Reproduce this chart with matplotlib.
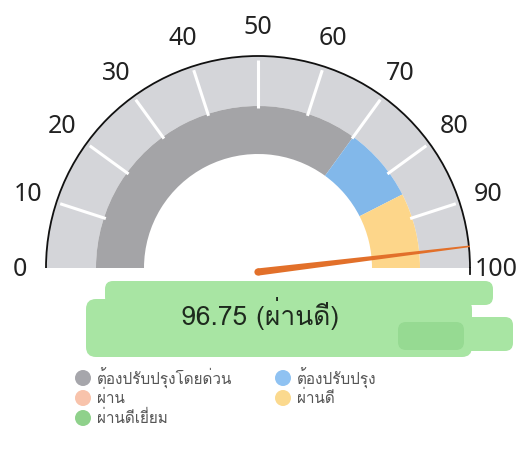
import numpy as np
import matplotlib
matplotlib.use('Agg')
import matplotlib.pyplot as plt
from matplotlib import font_manager
from matplotlib.ft2font import FT2Font
from matplotlib.patches import Wedge, Arc, Circle, Polygon, FancyBboxPatch

# ข้อมูลเกจ
score = 96.75
score_label = '96.75 (ผ่านดี)'
tick_values = [0, 10, 20, 30, 40, 50, 60, 70, 80, 90, 100]
band_edges = [0, 70, 85, 100]
band_colors = ['#a4a4a7', '#82b8ea', '#fdd68a']

legend_labels = ['ต้องปรับปรุงโดยด่วน', 'ต้องปรับปรุง', 'ผ่าน', 'ผ่านดี', 'ผ่านดีเยี่ยม']
legend_colors = ['#a6a6ab', '#8fc2f2', '#f8c3ab', '#fbd98e', '#8fd18b']


def thai_families():
    names = []
    for f in font_manager.fontManager.ttflist:
        try:
            cm = FT2Font(f.fname).get_charmap()
        except Exception:
            continue
        if 0x0E01 in cm and f.name not in names:
            names.append(f.name)
    return names


THAI = thai_families()
FAMILY = THAI + ['Noto Sans', 'DejaVu Sans']
plt.rcParams['font.family'] = FAMILY


def v2a(v):
    # ค่า 0..100 -> มุม 180..0 องศา
    return 180.0 - v * 1.8


fig = plt.figure(figsize=(5.29, 4.49), dpi=100)
ax = fig.add_axes([0, 0, 1, 1])
ax.set_xlim(-258, 271)
ax.set_ylim(-181, 268)
ax.set_aspect('equal')
ax.axis('off')

R_OUT = 212

# วงนอกสีเทาอ่อน
ax.add_patch(Wedge((0, 0), R_OUT, 0, 180, width=50, facecolor='#d4d5d9', edgecolor='none'))

# ช่วงสีด้านใน
for lo, hi, c in zip(band_edges[:-1], band_edges[1:], band_colors):
    ax.add_patch(Wedge((0, 0), 162, v2a(hi), v2a(lo), width=48, facecolor=c, edgecolor='none'))

# ขีดสีขาว
for v in tick_values[1:-1]:
    a = np.radians(v2a(v))
    ax.plot([160 * np.cos(a), 208 * np.cos(a)], [160 * np.sin(a), 208 * np.sin(a)],
            color='white', lw=2.2, solid_capstyle='butt')

ax.add_patch(Arc((0, 0), 2 * R_OUT, 2 * R_OUT, theta1=0, theta2=180, color='#111111', lw=1.3))
ax.plot([R_OUT, R_OUT], [0, -6], color='#111111', lw=1.3)

# ตัวเลขรอบเกจ
for v in tick_values:
    a = np.radians(v2a(v))
    r = 242 if v not in (0, 100) else 238
    ax.text(r * np.cos(a), r * np.sin(a) - 1, str(v), ha='center', va='center',
            fontsize=18, color='#222222', family=['Noto Sans', 'DejaVu Sans'])

# เข็ม
a = np.radians(v2a(score))
base = np.array([0.0, -4.0])
tip = np.array([(R_OUT + 1) * np.cos(a), (R_OUT + 1) * np.sin(a)])
d = (tip - base) / np.linalg.norm(tip - base)
n = np.array([-d[1], d[0]])
ax.add_patch(Polygon([base + 3.6 * n, tip + 0.8 * n, tip - 0.8 * n, base - 3.6 * n],
                     closed=True, facecolor='#e2702a', edgecolor='none', zorder=5))
ax.add_patch(Circle(base, 3.6, facecolor='#e2702a', edgecolor='none', zorder=5))

# แถบไฮไลต์สีเขียว
hl = '#a8e5a3'
ax.add_patch(FancyBboxPatch((-150, -34), 382, 18, boxstyle='round,pad=3,rounding_size=8',
                            facecolor=hl, edgecolor='none'))
ax.add_patch(FancyBboxPatch((-168, -85), 378, 50, boxstyle='round,pad=4,rounding_size=10',
                            facecolor=hl, edgecolor='none'))
ax.add_patch(FancyBboxPatch((140, -80), 112, 28, boxstyle='round,pad=3,rounding_size=8',
                            facecolor=hl, edgecolor='none'))
ax.add_patch(FancyBboxPatch((142, -80), 62, 24, boxstyle='round,pad=2,rounding_size=8',
                            facecolor='#96da92', edgecolor='none'))
ax.text(2, -45, score_label, ha='center', va='center', fontsize=19, color='#1e2a1e')

# คำอธิบายสัญลักษณ์
pos = [(-175, -110), (25, -110), (-175, -130), (25, -130), (-175, -150)]
for (x, y), lab, c in zip(pos, legend_labels, legend_colors):
    ax.add_patch(Circle((x, y), 8, facecolor=c, edgecolor='none'))
    ax.text(x + 14, y, lab, ha='left', va='center', fontsize=11, color='#555555')

fig.savefig('out.png', dpi=100)
